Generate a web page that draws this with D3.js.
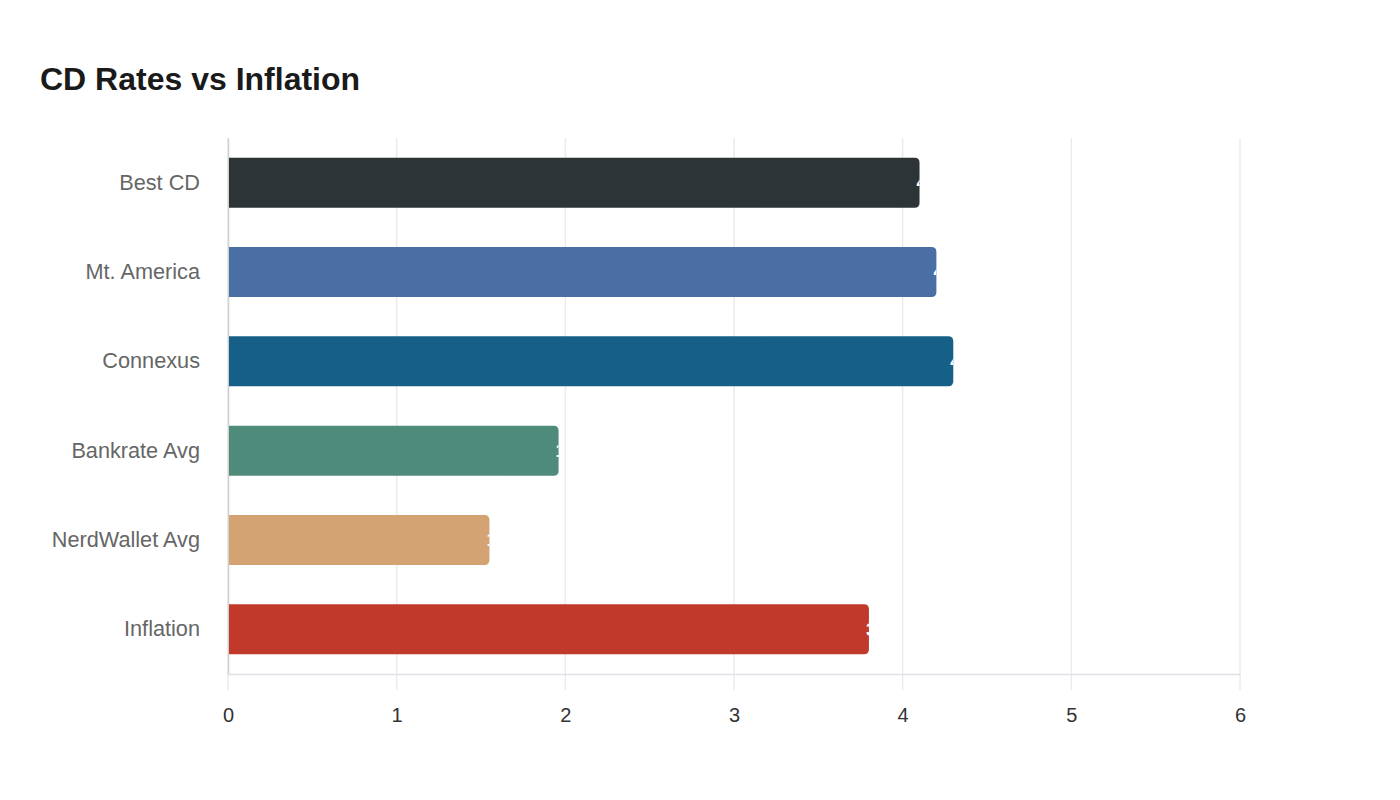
<!DOCTYPE html>
<html>
<head>
<meta charset="utf-8">
<script src="https://cdn.jsdelivr.net/npm/d3@7"></script>
<style>
  body { margin: 0; background: #fff; }
  svg { font-family: "Liberation Sans", Arial, sans-serif; }
</style>
</head>
<body>
<svg width="1400" height="800"></svg>
<script>
// chart data
const categories = ['Best CD', 'Mt. America', 'Connexus', 'Bankrate Avg', 'NerdWallet Avg', 'Inflation'];
const rates = [4.10, 4.20, 4.30, 1.96, 1.55, 3.80];
const barColors = ['#2d3436', '#4a6fa5', '#166088', '#4f8b7a', '#d4a373', '#c0392b'];
const xTicks = [0, 1, 2, 3, 4, 5, 6];

const margin = {top: 138, right: 160, bottom: 126, left: 228};
const width = 1400;
const height = 800;

const svg = d3.select('svg');

svg.append('text')
  .attr('x', 40)
  .attr('y', 90)
  .attr('font-size', 32)
  .attr('font-weight', 'bold')
  .attr('fill', '#1a1a1a')
  .text('CD Rates vs Inflation');

const x = d3.scaleLinear()
  .domain([0, 6])
  .range([margin.left, width - margin.right]);

const y = d3.scaleBand()
  .domain(categories)
  .range([margin.top, height - margin.bottom])
  .paddingInner(0.44)
  .paddingOuter(0.22);

const plotBottom = height - margin.bottom;

// vertical grid lines
svg.append('g')
  .selectAll('line')
  .data(xTicks)
  .join('line')
  .attr('x1', d => x(d))
  .attr('x2', d => x(d))
  .attr('y1', margin.top)
  .attr('y2', plotBottom + 16)
  .attr('stroke', '#ebebeb')
  .attr('stroke-width', 1.5);

// bottom axis
const xAxis = svg.append('g')
  .attr('transform', `translate(0,${plotBottom})`)
  .call(d3.axisBottom(x).tickValues(xTicks).tickSize(0).tickPadding(34).tickFormat(d3.format('d')));
xAxis.select('.domain').attr('stroke', '#e0e0e6').attr('stroke-width', 1.5);
xAxis.selectAll('text')
  .attr('font-size', 20)
  .attr('fill', '#333')
  .attr('font-family', '"Liberation Sans", Arial, sans-serif');

// left axis
const yAxis = svg.append('g')
  .attr('transform', `translate(${margin.left},0)`)
  .call(d3.axisLeft(y).tickSize(0).tickPadding(28));
yAxis.select('.domain').attr('stroke', '#d0d0d0').attr('stroke-width', 1.5);
yAxis.selectAll('text')
  .attr('font-size', 21.7)
  .attr('fill', '#666')
  .attr('font-family', '"Liberation Sans", Arial, sans-serif');

// bars with rounded right corners
function barPath(x0, x1, y0, h, r) {
  return `M${x0},${y0}H${x1 - r}Q${x1},${y0} ${x1},${y0 + r}` +
    `V${y0 + h - r}Q${x1},${y0 + h} ${x1 - r},${y0 + h}H${x0}Z`;
}

const rows = categories.map((c, i) => ({cat: c, val: rates[i], color: barColors[i], id: 'bar-clip-' + i}));

// clip each value label to its own bar
const defs = svg.append('defs');
defs.selectAll('clipPath')
  .data(rows)
  .join('clipPath')
  .attr('id', d => d.id)
  .append('path')
  .attr('d', d => barPath(x(0) + 1, x(d.val), y(d.cat), y.bandwidth(), 5));

svg.append('g')
  .selectAll('path')
  .data(rows)
  .join('path')
  .attr('d', d => barPath(x(0) + 1, x(d.val), y(d.cat), y.bandwidth(), 5))
  .attr('fill', d => d.color);

// value labels start just inside the bar end, so only a sliver shows
svg.append('g')
  .selectAll('text')
  .data(rows)
  .join('text')
  .attr('clip-path', d => `url(#${d.id})`)
  .attr('x', d => x(d.val) - 3)
  .attr('y', d => y(d.cat) + y.bandwidth() / 2)
  .attr('dy', '0.35em')
  .attr('font-size', 18)
  .attr('font-weight', 'bold')
  .attr('fill', '#fff')
  .text(d => d.val.toFixed(2) + '%');
</script>
</body>
</html>
